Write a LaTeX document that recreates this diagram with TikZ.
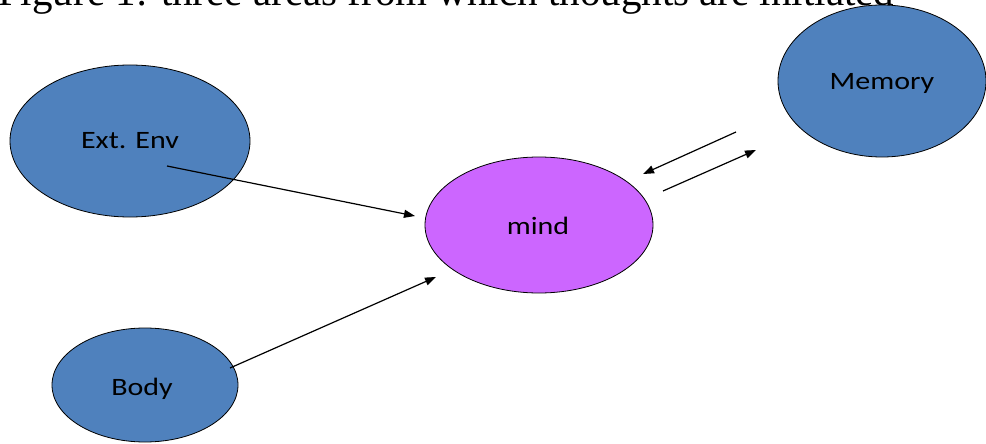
\documentclass[tikz,border=0pt]{standalone}
\usepackage{fontspec}
\setmainfont{Liberation Serif}
\newfontfamily\lblfont{Carlito}[FakeStretch=1.2]
\usetikzlibrary{arrows.meta}
\definecolor{ovalblue}{HTML}{4F81BD}
\definecolor{ovalpurple}{HTML}{CC66FF}
\tikzset{
  oval/.style={draw=black, line width=0.8pt, ellipse},
  lbl/.style={font=\lblfont\fontsize{25}{30}\selectfont, anchor=base, inner sep=0pt},
  flow/.style={draw=black, line width=1.2pt, -{Triangle[length=11pt,width=8pt]}}
}
\begin{document}
\begin{tikzpicture}[x=1pt, y=-1pt]
  \useasboundingbox (0,0) rectangle (986,444);
  \begin{scope}
    \clip (0,0) rectangle (986,444);
    % caption, partly outside the frame
    \node[font=\fontsize{41}{48}\selectfont, anchor=base west, inner sep=0pt]
      (caption) at (-2,6) {Figure 1: three areas from which thoughts are initiated};
    % the four areas
    \fill[ovalblue] (130,141) ellipse [x radius=120, y radius=76];
    \draw[line width=0.8pt] (130,141) ellipse [x radius=120, y radius=76];
    \coordinate (ext) at (130,141);
    \fill[ovalblue] (882,81) ellipse [x radius=104, y radius=76];
    \draw[line width=0.8pt] (882,81) ellipse [x radius=104, y radius=76];
    \coordinate (mem) at (882,81);
    \fill[ovalpurple] (539,225) ellipse [x radius=114, y radius=68];
    \draw[line width=0.8pt] (539,225) ellipse [x radius=114, y radius=68];
    \coordinate (mind) at (539,225);
    \fill[ovalblue] (145,385) ellipse [x radius=93, y radius=57];
    \draw[line width=0.8pt] (145,385) ellipse [x radius=93, y radius=57];
    \coordinate (body) at (145,385);
  \end{scope}
  % labels
  \node[lbl] (extlbl) at (130,148) {Ext. Env};
  \node[lbl] (memlbl) at (882,90) {Memory};
  \node[lbl] (mindlbl) at (538,234) {mind};
  \node[lbl] (bodylbl) at (142,395) {Body};
  % arrow end points
  \coordinate (extout) at (167,166);
  \coordinate (mindinA) at (415,216);
  \coordinate (bodyout) at (230,368);
  \coordinate (mindinB) at (436,277);
  \coordinate (memout) at (736,132);
  \coordinate (mindinC) at (643,174);
  \coordinate (mindout) at (663,191);
  \coordinate (meminA) at (756,150);
  % connectors
  \draw[flow] (extout) -- (mindinA);
  \draw[flow] (bodyout) -- (mindinB);
  \draw[flow] (memout) -- (mindinC);
  \draw[flow] (mindout) -- (meminA);
\end{tikzpicture}
\end{document}
